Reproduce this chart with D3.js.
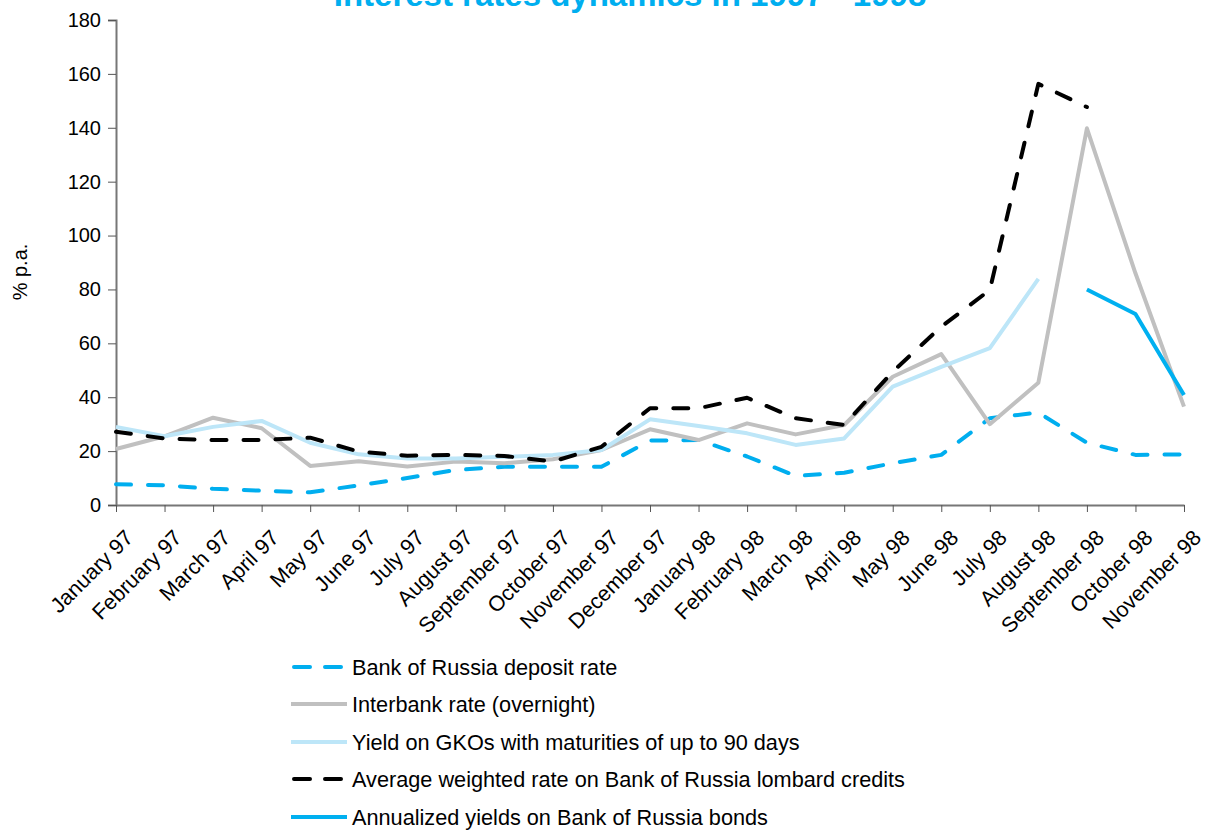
<!DOCTYPE html>
<html>
<head>
<meta charset="utf-8">
<script src="https://cdn.jsdelivr.net/npm/d3@7/dist/d3.min.js"></script>
<style>
  html, body { margin: 0; padding: 0; background: #fff; }
  svg { display: block; font-family: "Liberation Sans", Arial, Helvetica, sans-serif; }
</style>
</head>
<body>
<svg id="chart" width="1205" height="830"></svg>
<script>
const months = ["January 97","February 97","March 97","April 97","May 97","June 97","July 97","August 97","September 97","October 97","November 97","December 97","January 98","February 98","March 98","April 98","May 98","June 98","July 98","August 98","September 98","October 98","November 98"];
const depositRate = [7.7, 7.3, 6.0, 5.3, 4.7, 7.3, 10.0, 13.0, 14.2, 14.2, 14.2, 23.9, 24.1, 18.0, 10.8, 12.0, 15.5, 18.6, 32.2, 34.3, 23.1, 18.6, 18.8];
const interbankRate = [20.8, 25.5, 32.4, 28.5, 14.5, 16.2, 14.3, 16.1, 15.5, 17.0, 20.4, 28.1, 24.1, 30.3, 26.2, 29.7, 47.6, 56.0, 30.0, 45.4, 139.8, 86.0, 36.5];
const gkoYield = [29.0, 25.5, 29.0, 31.2, 23.1, 18.8, 17.3, 17.3, 17.9, 18.6, 20.4, 31.8, 29.3, 26.6, 22.3, 24.7, 43.9, 51.3, 58.2, 83.9, null, null, null];
const lombardRate = [27.2, 24.7, 24.1, 24.1, 25.0, 19.8, 18.3, 18.6, 18.2, 16.1, 21.6, 35.9, 35.9, 39.8, 32.2, 29.7, 49.5, 66.2, 79.8, 156.3, 147.7, null, null];
const bondYield = [null, null, null, null, null, null, null, null, null, null, null, null, null, null, null, null, null, null, null, null, 80.0, 70.9, 40.8];
const yTicks = [0, 20, 40, 60, 80, 100, 120, 140, 160, 180];

const title = "Interest rates dynamics in 1997 - 1998";
const yTitle = "% p.a.";

const series = [
  { name: "Bank of Russia deposit rate", values: depositRate, color: "#00AEEF", dash: "15,17" },
  { name: "Interbank rate (overnight)", values: interbankRate, color: "#C0C0C0", dash: null },
  { name: "Yield on GKOs with maturities of up to 90 days", values: gkoYield, color: "#BDE6F8", dash: null },
  { name: "Average weighted rate on Bank of Russia lombard credits", values: lombardRate, color: "#000000", dash: "15,17" },
  { name: "Annualized yields on Bank of Russia bonds", values: bondYield, color: "#00B0F0", dash: null }
];

const svg = d3.select("#chart");
const x = d3.scalePoint().domain(months).range([116, 1184]);
const y = d3.scaleLinear().domain([0, 180]).range([505, 20]);

// title
svg.append("text")
  .attr("x", 630).attr("y", 6)
  .attr("text-anchor", "middle")
  .attr("font-size", 33).attr("font-weight", "bold")
  .attr("fill", "#00AEEF")
  .text(title);

// y axis
const yAxis = svg.append("g").attr("transform", "translate(116,0)")
  .call(d3.axisLeft(y).tickValues(yTicks).tickSize(8).tickPadding(7));
yAxis.selectAll("text").attr("font-size", 20).attr("fill", "#000").attr("font-family", "Liberation Sans, Arial, sans-serif");
yAxis.selectAll("line").attr("stroke", "#555");
yAxis.select(".domain").attr("stroke", "#777").attr("stroke-width", 2);

// x axis
const xAxis = svg.append("g").attr("transform", "translate(0,505)")
  .call(d3.axisBottom(x).tickSize(7).tickSizeOuter(0));
xAxis.selectAll("line").attr("stroke", "#555");
xAxis.select(".domain").attr("stroke", "#777").attr("stroke-width", 2);
xAxis.selectAll("text")
  .attr("font-size", 21.5).attr("fill", "#000").attr("font-family", "Liberation Sans, Arial, sans-serif")
  .attr("text-anchor", "end")
  .attr("dy", null).attr("y", null)
  .attr("transform", "translate(18,34) rotate(-45)");

// y title
svg.append("text")
  .attr("transform", "translate(27,272) rotate(-90)")
  .attr("text-anchor", "middle")
  .attr("font-size", 20).attr("fill", "#000")
  .text(yTitle);

// lines
const line = d3.line()
  .defined(d => d.v != null)
  .x(d => x(d.m))
  .y(d => y(d.v));

series.forEach(s => {
  const data = months.map((m, i) => ({ m: m, v: s.values[i] }));
  const p = svg.append("path")
    .datum(data)
    .attr("d", line)
    .attr("fill", "none")
    .attr("stroke", s.color)
    .attr("stroke-width", 4)
    .attr("stroke-linejoin", "round")
    .attr("stroke-linecap", s.dash ? "round" : "butt");
  if (s.dash) p.attr("stroke-dasharray", s.dash);
});

// legend
const legendY = [667, 704, 742, 779, 817];
const legend = svg.append("g");
series.forEach((s, i) => {
  const g = legend.append("g").attr("transform", `translate(0,${legendY[i]})`);
  const l = g.append("line")
    .attr("x1", s.dash ? 294 : 291).attr("x2", s.dash ? 343 : 347)
    .attr("y1", 0).attr("y2", 0)
    .attr("stroke", s.color).attr("stroke-width", 4)
    .attr("stroke-linecap", s.dash ? "round" : "butt");
  if (s.dash) l.attr("stroke-dasharray", "16,15");
  g.append("text")
    .attr("x", 352).attr("y", 7.5)
    .attr("font-size", 21.7).attr("fill", "#000")
    .text(s.name);
});
</script>
</body>
</html>
